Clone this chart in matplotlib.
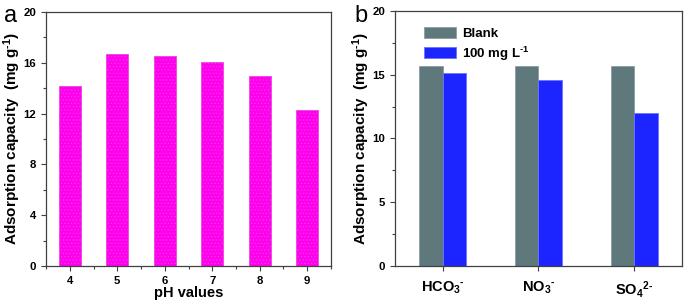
import numpy as np
import matplotlib
matplotlib.use('Agg')
import matplotlib.pyplot as plt
from matplotlib.ticker import MultipleLocator

plt.rcParams['font.family'] = ['Liberation Sans', 'DejaVu Sans']
plt.rcParams['font.weight'] = 'bold'
plt.rcParams['mathtext.fontset'] = 'custom'
plt.rcParams['mathtext.bf'] = 'Liberation Sans:bold'
plt.rcParams['mathtext.rm'] = 'Liberation Sans:bold'
plt.rcParams['mathtext.default'] = 'bf'
plt.rcParams['hatch.linewidth'] = 0.4

# panel a: effect of pH
ph_values = [4, 5, 6, 7, 8, 9]
capacity_ph = [14.2, 16.67, 16.54, 16.07, 14.99, 12.24]

# panel b: coexisting anions
anions = ['HCO$_3$$^{\u2010}$', 'NO$_3$$^{\u2010}$', 'SO$_4$$^{2\u2010}$']
blank = [15.66, 15.66, 15.66]
anion_100 = [15.16, 14.59, 11.97]

ylab = 'Adsorption capacity  (mg g$^{\u20101}$)'
axis_col = '#404040'

fig = plt.figure(figsize=(6.85, 3.05), dpi=100)

def style_axes(ax):
    for s in ax.spines.values():
        s.set_color(axis_col)
        s.set_linewidth(0.9)
    ax.tick_params(which='both', direction='out', colors=axis_col, labelcolor='black',
                   labelsize=8.2, top=False, right=False)
    ax.tick_params(which='major', length=3.5, width=0.8)
    ax.tick_params(which='minor', length=2, width=0.8)
    for lab in ax.get_xticklabels() + ax.get_yticklabels():
        lab.set_fontweight('bold')

# ---- a ----
ax1 = fig.add_axes([0.0672, 0.128, 0.416, 0.833])
ax1.bar(ph_values, capacity_ph, width=0.46, color='#ff00ee', edgecolor='#ee44e0',
        hatch='.....', linewidth=0.6)
ax1.set_xlim(3.5, 9.5)
ax1.set_ylim(0, 20)
ax1.set_xticks(ph_values)
ax1.xaxis.set_minor_locator(MultipleLocator(0.5))
ax1.yaxis.set_major_locator(MultipleLocator(4))
ax1.yaxis.set_minor_locator(MultipleLocator(2))
ax1.set_xlabel('pH values', fontsize=10.5, fontweight='bold', labelpad=0)
ax1.set_ylabel(ylab, fontsize=11, fontweight='bold', labelpad=0)
style_axes(ax1)
fig.text(0.006, 0.985, 'a', fontsize=17, fontweight='normal', va='top')

# ---- b ----
ax2 = fig.add_axes([0.5766, 0.128, 0.419, 0.836])
x = np.arange(len(anions))
w = 0.245
ax2.bar(x - w / 2, blank, width=w, color='#5f787c', edgecolor='#8a9fa2', linewidth=0.6, label='Blank')
ax2.bar(x + w / 2, anion_100, width=w, color='#1c24ff', edgecolor='#6b73ff', linewidth=0.6,
        label='100 mg L$^{\u20101}$')
ax2.set_xlim(-0.5, 2.5)
ax2.set_ylim(0, 20)
ax2.set_xticks(x)
ax2.set_xticklabels(anions)
ax2.yaxis.set_major_locator(MultipleLocator(5))
ax2.yaxis.set_minor_locator(MultipleLocator(2.5))
ax2.set_ylabel(ylab, fontsize=11, fontweight='bold', labelpad=0)
style_axes(ax2)
ax2.tick_params(axis='x', labelsize=10.5, pad=6)
ax2.legend(loc='upper left', bbox_to_anchor=(0.06, 0.985), frameon=False,
           handlelength=2.4, handleheight=0.9, handletextpad=0.5, labelspacing=0.35,
           prop={'weight': 'bold', 'size': 9.5})
fig.text(0.518, 0.985, 'b', fontsize=17, fontweight='normal', va='top')

fig.savefig('out.png', dpi=100)
